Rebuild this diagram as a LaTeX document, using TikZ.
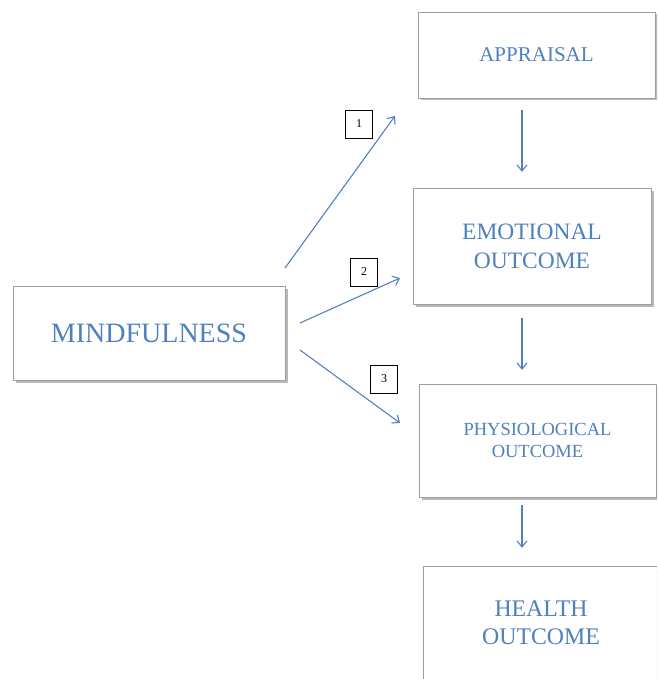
\documentclass[tikz,border=0pt]{standalone}
\usepackage{fontspec}
\setmainfont{Liberation Serif}
\usetikzlibrary{shadows}
\usetikzlibrary{arrows.meta}

\definecolor{wordblue}{HTML}{4F81BD}

\begin{document}
\begin{tikzpicture} [
    x=1pt, y=-1pt,
      block/.style    = { rectangle, draw=gray!75, fill=white, text=wordblue,
                        align=center, inner sep=0pt,
                        drop shadow={shadow xshift=2.5pt, shadow yshift=-2.5pt,
                        fill=gray, opacity=0.55} },
    line/.style     = { draw=wordblue, line width=1.1pt,
                        -{Straight Barb[length=6pt,width=10pt]} },
    numbox/.style   = { rectangle, draw=black, line width=0.8pt,
                        minimum width=27pt, minimum height=28pt, inner sep=0pt,
                        font=\fontsize{12}{14}\selectfont },
  ]
\clip (0,0) rectangle (657,679);
\useasboundingbox (0,0) rectangle (657,679);

\node (Mind) [block, minimum width=272pt, minimum height=94pt,
    font=\fontsize{28}{32}\selectfont] at (149,333) {MINDFULNESS};
\node (Appr) [block, minimum width=237pt, minimum height=86pt,
    font=\fontsize{21}{25}\selectfont] at (536.5,55) {APPRAISAL};
\node (Emo) [block, minimum width=238pt, minimum height=116pt,
    font=\fontsize{23.5}{29}\selectfont] at (532,246) {EMOTIONAL\\OUTCOME};
\node (Phys) [block, minimum width=237pt, minimum height=113pt,
    font=\fontsize{18.5}{22}\selectfont] at (537.5,440.5) {PHYSIOLOGICAL\\OUTCOME};
\node (Health) [block, minimum width=236pt, minimum height=114pt,
    font=\fontsize{23.8}{28}\selectfont] at (541,623) {HEALTH\\OUTCOME};

% labels of the three paths
\node (n1) [numbox] at (359,124) {1};
\node (n2) [numbox] at (364,272) {2};
\node (n3) [numbox] at (384,379) {3};

% ends of the paths
\coordinate (col) at (522,0);
\coordinate (s1) at (285,268);
\coordinate (e1) at (395,116);
\coordinate (s2) at (300,323);
\coordinate (e2) at (400,278);
\coordinate (s3) at (300,350);
\coordinate (e3) at (400,423);

\begin{scope}[every path/.style=line]
\path (s1) -- (e1);
\path (s2) -- (e2);
\path (s3) -- (e3);
\path[shorten <=12pt, shorten >=16pt] (Appr.south -| col) -- (Emo.north -| col);
\path[shorten <=14pt, shorten >=14pt] (Emo.south -| col) -- (Phys.north -| col);
\path[shorten <=8pt, shorten >=18pt] (Phys.south -| col) -- (Health.north -| col);
\end{scope}

\end{tikzpicture}
\end{document}
